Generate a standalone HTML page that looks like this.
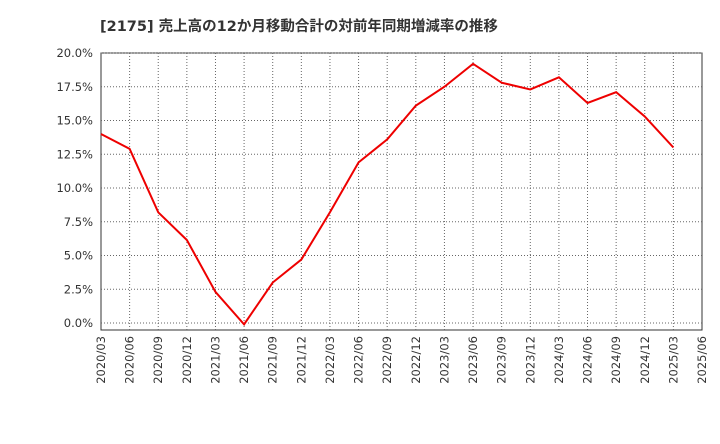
<!DOCTYPE html>
<html><head><meta charset="utf-8"><style>
body{margin:0;background:#fff;width:720px;height:440px;overflow:hidden;font-family:"DejaVu Sans","Noto Sans CJK JP",sans-serif}
</style></head><body>
<svg width="720" height="440" id="c">
<text x="100" y="31" font-size="14.5" font-weight="bold" fill="#333" font-family="DejaVu Sans, Noto Sans CJK JP, sans-serif">[2175]  売上高の12か月移動合計の対前年同期増減率の推移</text>
</svg>
<script>
const categories=["2020/03","2020/06","2020/09","2020/12","2021/03","2021/06","2021/09","2021/12","2022/03","2022/06","2022/09","2022/12","2023/03","2023/06","2023/09","2023/12","2024/03","2024/06","2024/09","2024/12","2025/03","2025/06"];
const values=[14.0,12.9,8.2,6.15,2.3,-0.1,3.0,4.7,8.2,11.9,13.6,16.1,17.5,19.2,17.8,17.3,18.2,16.3,17.1,15.3,13.0];
const yTicks=[0,2.5,5,7.5,10,12.5,15,17.5,20];
const ns="http://www.w3.org/2000/svg";
const svg=document.getElementById('c');
const L=101,R=702,T=53,B=330;
const xs=i=>L+(R-L)*i/(categories.length-1);
const ys=v=>323-(v/20)*(323-53);
function mk(t,a){const e=document.createElementNS(ns,t);for(const k in a)e.setAttribute(k,a[k]);svg.appendChild(e);return e;}
const frame=mk('rect',{x:L,y:T,width:R-L,height:B-T,fill:'none',stroke:'#333','stroke-width':1});


categories.forEach((c,i)=>{
  const x=xs(i);
  if(i>0&&i<categories.length-1){const g=mk('line',{x1:x,x2:x,y1:T,y2:B,stroke:'#666','stroke-dasharray':'1,2','stroke-width':1});
  
  }
  const t=mk('text',{x:0,y:0,'font-size':11.5,fill:'#333','text-anchor':'end',transform:`translate(${x+4},${B+6}) rotate(-90)`});
  t.textContent=c;
  
  
});
yTicks.forEach(v=>{
  const y=ys(v);
  const g=mk('line',{x1:L,x2:R,y1:y,y2:y,stroke:'#666','stroke-dasharray':'1,2','stroke-width':1});
  
  
  const t=mk('text',{x:L-8,y:y+4,'font-size':11.5,fill:'#333','text-anchor':'end'});
  t.textContent=v.toFixed(1)+'%';
  
  
});
const line=mk('polyline',{points:values.map((v,i)=>xs(i)+','+ys(v)).join(' '),fill:'none',stroke:'#ee0000','stroke-width':2});


</script>
</body></html>
